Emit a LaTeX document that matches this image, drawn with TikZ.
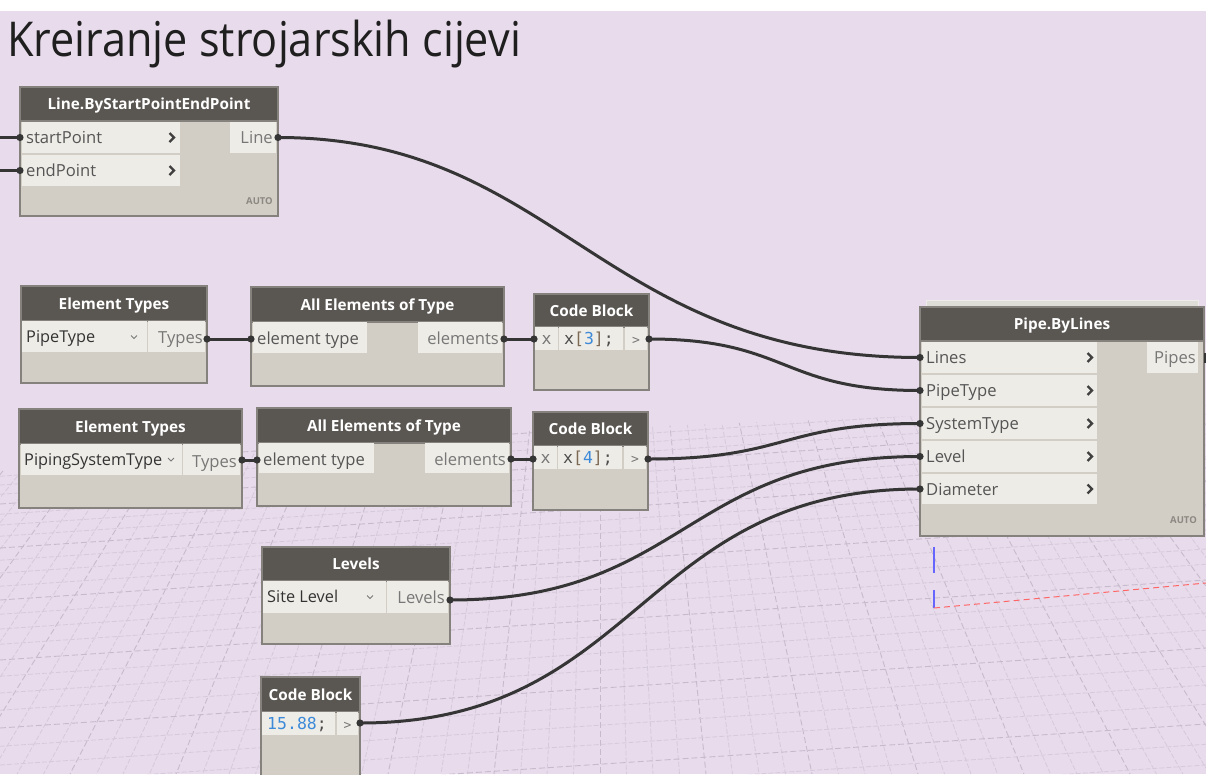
\documentclass[tikz,border=0pt]{standalone}
\usepackage{fontspec}
\setmainfont{Open Sans}
\setmonofont{DejaVu Sans Mono}
\definecolor{bgc}{HTML}{E8DBEB}
\definecolor{hdr}{HTML}{5A5652}
\definecolor{bodyc}{HTML}{D2CEC6}
\definecolor{cellc}{HTML}{EEECE7}
\definecolor{bord}{HTML}{85817C}
\definecolor{wirec}{HTML}{353535}
\definecolor{lbl}{HTML}{555555}
\definecolor{outlbl}{HTML}{777777}
\definecolor{codeblue}{HTML}{3C8AD8}
\definecolor{brk}{HTML}{7D6A55}
\definecolor{gridc}{HTML}{D5CADB}
\definecolor{gridm}{HTML}{C6BACD}
\definecolor{autoc}{HTML}{8C8882}
\newcommand\dbody[5]{\node[bodyst,minimum width=#4,minimum height=#5] (#1) at (#2,#3) {};}
\newcommand\dhead[6]{\node[headst,minimum width=#4,minimum height=#5] (#1) at (#2,#3) {#6};}
\newcommand\dcell[5]{\node[cellst,minimum width=#4,minimum height=#5] (#1) at (#2,#3) {};}
\newcommand\dchev[2]{\draw[chevp] (#1-2.5,#2-4.5) -- (#1+2,#2) -- (#1-2.5,#2+4.5);}
\begin{document}
\begin{tikzpicture}[x=1pt,y=-1pt,
  bodyst/.style={anchor=north west,draw=bord,line width=1.5pt,fill=bodyc,inner sep=0,outer sep=0},
  headst/.style={anchor=north west,draw=bord,line width=1.5pt,fill=hdr,inner sep=0,outer sep=0,text=white,
     font=\fontsize{15.3}{17}\selectfont\bfseries,text height=11pt,text depth=0pt},
  cellst/.style={anchor=north west,fill=cellc,inner sep=0,outer sep=0},
  inl/.style={anchor=west,inner sep=0,text=lbl,font=\fontsize{16.6}{18}\selectfont,text height=12pt,text depth=0pt},
  outl/.style={anchor=east,inner sep=0,text=outlbl,font=\fontsize{16.6}{18}\selectfont,text height=12pt,text depth=0pt},
  ddl/.style={anchor=west,inner sep=0,text=black!80,font=\fontsize{16.3}{18}\selectfont,text height=12pt,text depth=0pt},
  chevp/.style={draw=black!75,line width=2.2pt,line cap=butt,line join=miter},
  codet/.style={anchor=center,inner sep=0,font=\fontsize{16.5}{18}\ttfamily,text height=11pt,text depth=0pt},
  autot/.style={anchor=east,inner sep=0,text=autoc,font=\fontsize{9.5}{10}\selectfont\bfseries},
  vmark/.style={draw=outlbl,line width=1pt},
  wire/.style={draw=wirec,line width=3pt},
  nub/.style={fill=wirec},
  gridl/.style={draw=gridc,line width=0.8pt,dash pattern=on 5pt off 2pt},
  gridM/.style={draw=gridm,line width=0.9pt,dash pattern=on 6pt off 3pt}]
% background
\fill[white] (0,0) rectangle (1206,774);
\fill[bgc] (0,11) rectangle (1206,774);
\useasboundingbox (0,0) rectangle (1206,774);
% perspective grid
\begin{scope}
\clip (0,470) -- (500,432) -- (1206,405) -- (1206,774) -- (0,774) -- cycle;
\foreach \k in {-50,...,50}{
  \pgfmathtruncatemacro\mm{mod(abs(\k),4)}
  \ifnum\mm=0 \draw[gridM] (600,-250) -- ({600+26.5*\k},774);
  \else \draw[gridl] (600,-250) -- ({600+26.5*\k},774); \fi}
\foreach \i in {0,...,30}{
  \pgfmathsetmacro\yy{440+\i*(6+0.25*\i)}
  \pgfmathtruncatemacro\mm{mod(\i,4)}
  \ifnum\mm=0 \draw[gridM] (0,\yy) -- (1206,\yy-80);
  \else \draw[gridl] (0,\yy) -- (1206,\yy-80); \fi}
\end{scope}
% axes marks
\draw[draw=blue!60!white,line width=1.2pt] (934,547) -- (934,573);
\draw[draw=blue!60!white,line width=1.2pt] (934,590) -- (934,608);
\draw[draw=red!60!white,line width=1pt,dash pattern=on 6pt off 4pt] (934,608) -- (1206,583);
% title
\node[anchor=base west,inner sep=0,text=black!88,font=\fontsize{48}{54}\selectfont] (title) at (7,56) {\scalebox{0.9}[1]{Kreiranje strojarskih cijevi}};

% ===== Line.ByStartPointEndPoint
\dbody{ln}{20}{87}{258}{129}
\dhead{lnH}{20}{87}{258}{34}{Line.ByStartPointEndPoint}
\dcell{lnC1}{22}{122}{158}{31}
\dcell{lnC2}{22}{155}{158}{31}
\dcell{lnC3}{230}{122}{46}{31}
\node[inl] (lnT1) at (26,137.5) {startPoint};
\node[inl] (lnT2) at (26,170.5) {endPoint};
\dchev{172}{137.5}
\dchev{172}{170.5}
\node[outl] (lnT3) at (273,137.5) {Line};
\node[autot] (lnA) at (273,201) {AUTO};

% ===== Element Types 1
\dbody{et1}{21}{286}{186}{97}
\dhead{et1H}{21}{286}{186}{35}{Element Types}
\dcell{et1C1}{22}{321}{125}{31}
\dcell{et1C2}{148}{321}{57}{31}
\node[ddl] (et1T1) at (26,336.5) {PipeType};
\draw[vmark] (131,335.5) -- (134,338.5) -- (137,335.5);
\node[outl] (et1T2) at (203,337.5) {Types};

% ===== All Elements of Type 1
\dbody{ae1}{251}{287}{253}{99}
\dhead{ae1H}{251}{287}{253}{35}{All Elements of Type}
\dcell{ae1C1}{253}{322}{114}{31}
\dcell{ae1C2}{418}{322}{84}{31}
\node[inl] (ae1T1) at (257,338.5) {element type};
\node[outl] (ae1T2) at (499,338.5) {elements};

% ===== Code Block 1
\dbody{cb1}{534}{294}{115}{96}
\dhead{cb1H}{534}{294}{115}{33}{Code Block}
\dcell{cb1C1}{535}{327}{23}{23}
\dcell{cb1C2}{559}{327}{64}{23}
\dcell{cb1C3}{625}{327}{22}{23}
\node[codet,text=outlbl] (cb1x) at (546.5,338.5) {x};
\node[codet] (cb1T) at (589,338.5) {\textcolor{black!70}{x}\textcolor{brk}{[}\textcolor{codeblue}{3}\textcolor{brk}{]}\textcolor{black!70}{;}};
\node[codet,text=outlbl,font=\fontsize{13}{14}\ttfamily] (cb1o) at (636,338.5) {>};

% ===== Element Types 2
\dbody{et2}{19}{409}{223}{99}
\dhead{et2H}{19}{409}{223}{35}{Element Types}
\dcell{et2C1}{21}{444}{161}{31}
\dcell{et2C2}{183}{444}{57}{31}
\node[ddl] (et2T1) at (24,459.5) {PipingSystemType};
\draw[vmark] (168,458) -- (171,461) -- (174,458);
\node[outl] (et2T2) at (237,461) {Types};

% ===== All Elements of Type 2
\dbody{ae2}{257}{408}{254}{98}
\dhead{ae2H}{257}{408}{254}{35}{All Elements of Type}
\dcell{ae2C1}{259}{443}{115}{30}
\dcell{ae2C2}{425}{443}{84}{30}
\node[inl] (ae2T1) at (263,459) {element type};
\node[outl] (ae2T2) at (506,459) {elements};

% ===== Code Block 2
\dbody{cb2}{533}{412}{115}{98}
\dhead{cb2H}{533}{412}{115}{34}{Code Block}
\dcell{cb2C1}{534}{446}{23}{23}
\dcell{cb2C2}{558}{446}{64}{23}
\dcell{cb2C3}{624}{446}{22}{23}
\node[codet,text=outlbl] (cb2x) at (545.5,457.5) {x};
\node[codet] (cb2T) at (588,457.5) {\textcolor{black!70}{x}\textcolor{brk}{[}\textcolor{codeblue}{4}\textcolor{brk}{]}\textcolor{black!70}{;}};
\node[codet,text=outlbl,font=\fontsize{13}{14}\ttfamily] (cb2o) at (635,457.5) {>};

% ===== Pipe.ByLines
\node[anchor=north west,draw=white!85!bord,line width=1.2pt,fill=bodyc!70!white,inner sep=0,minimum width=272,minimum height=12] (pbS) at (926,300) {};
\dbody{pb}{920}{307}{284}{229}
\dhead{pbH}{920}{307}{284}{34}{Pipe.ByLines}
\dcell{pbC1}{922}{342}{175}{31}
\dcell{pbC2}{922}{375}{175}{31}
\dcell{pbC3}{922}{408}{175}{31}
\dcell{pbC4}{922}{441}{175}{31}
\dcell{pbC5}{922}{474}{175}{30}
\dcell{pbC6}{1147}{342}{51}{31}
\node[inl] (pbT1) at (926,357.5) {Lines};
\node[inl] (pbT2) at (926,390.5) {PipeType};
\node[inl] (pbT3) at (926,423.5) {SystemType};
\node[inl] (pbT4) at (926,456.5) {Level};
\node[inl] (pbT5) at (926,489) {Diameter};
\dchev{1090}{357.5}
\dchev{1090}{390.5}
\dchev{1090}{423.5}
\dchev{1090}{456.5}
\dchev{1090}{489}
\node[outl] (pbT6) at (1196,357.5) {Pipes};
\node[autot] (pbA) at (1197,520) {AUTO};

% ===== Levels
\dbody{lv}{262}{547}{188}{97}
\dhead{lvH}{262}{547}{188}{34}{Levels}
\dcell{lvC1}{263}{581}{123}{32}
\dcell{lvC2}{387}{581}{61}{32}
\node[ddl] (lvT1) at (267,596.5) {Site Level};
\draw[vmark] (367,595.5) -- (370,598.5) -- (373,595.5);
\node[outl] (lvT2) at (445,597.5) {Levels};

% ===== Code Block 3
\dbody{cb3}{261}{677}{99}{110}
\dhead{cb3H}{261}{677}{99}{35}{Code Block}
\dcell{cb3C1}{262}{712}{73}{23}
\dcell{cb3C2}{337}{712}{21}{23}
\node[codet] (cb3T) at (297,723.5) {\textcolor{codeblue}{15.88}\textcolor{black!70}{;}};
\node[codet,text=outlbl,font=\fontsize{13}{14}\ttfamily] (cb3o) at (347.5,723.5) {>};

% ===== ports
\coordinate (inA) at (0,137.5);
\coordinate (inB) at (0,170.5);
\coordinate (lnI1) at (20,137.5);
\coordinate (lnI2) at (20,170.5);
\coordinate (lnO) at (278,137.5);
\coordinate (et1O) at (207,339);
\coordinate (ae1I) at (251,339);
\coordinate (ae1O) at (504,339);
\coordinate (cb1I) at (534,339);
\coordinate (cb1O) at (649,339);
\coordinate (et2O) at (242,460);
\coordinate (ae2I) at (257,460);
\coordinate (ae2O) at (511,459);
\coordinate (cb2I) at (533,459);
\coordinate (cb2O) at (648,459);
\coordinate (lvO) at (450,600);
\coordinate (cb3O) at (360,723);
\coordinate (pbI1) at (920,357.5);
\coordinate (pbI2) at (920,390.5);
\coordinate (pbI3) at (920,423.5);
\coordinate (pbI4) at (920,456.5);
\coordinate (pbI5) at (920,489);
\coordinate (pbO) at (1204,357.5);

% ===== wires
\draw[wire] (inA) -- (lnI1);
\draw[wire] (inB) -- (lnI2);
\draw[wire] (lnO) .. controls +(280,0) and +(-320,0) .. (pbI1);
\draw[wire] (et1O) .. controls +(22,0) and +(-22,0) .. (ae1I);
\draw[wire] (ae1O) .. controls +(15,0) and +(-15,0) .. (cb1I);
\draw[wire] (cb1O) .. controls +(140,0) and +(-140,0) .. (pbI2);
\draw[wire] (et2O) .. controls +(8,0) and +(-8,0) .. (ae2I);
\draw[wire] (ae2O) .. controls +(11,0) and +(-11,0) .. (cb2I);
\draw[wire] (cb2O) .. controls +(140,0) and +(-140,0) .. (pbI3);
\draw[wire] (lvO) .. controls +(235,0) and +(-235,0) .. (pbI4);
\draw[wire] (cb3O) .. controls +(280,0) and +(-280,0) .. (pbI5);
\foreach \p in {lnI1,lnI2,lnO,et1O,ae1I,ae1O,cb1I,cb1O,et2O,ae2I,ae2O,cb2I,cb2O,lvO,cb3O,pbI1,pbI2,pbI3,pbI4,pbI5}{
  \fill[nub] (\p) circle (3.6);}
\fill[nub] (pbO) ++(0,-5) rectangle ++(2.5,10);
\end{tikzpicture}
\end{document}
